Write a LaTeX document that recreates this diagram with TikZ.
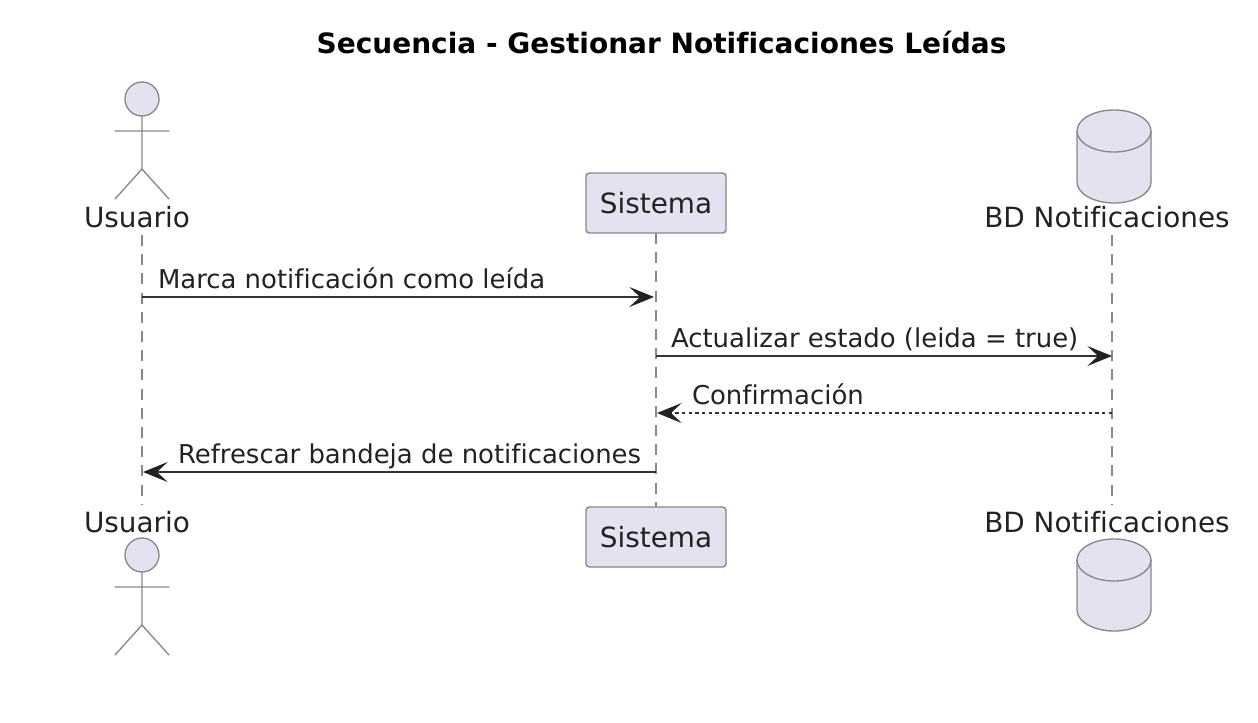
\documentclass[tikz,border=0pt]{standalone}
\usepackage{fontspec}
\setmainfont[Ligatures=NoCommon]{DejaVu Sans}
\usetikzlibrary{arrows.meta}
\definecolor{partfill}{HTML}{E2E2F0}
\definecolor{partline}{HTML}{87878C}
\definecolor{ink}{HTML}{222222}
\definecolor{msgline}{HTML}{333333}
\tikzset{
  x=0.75pt,y=-0.75pt,
  every node/.style={inner sep=0pt,outer sep=0pt,text=ink},
  headlabel/.style={font=\fontsize{20.9}{24}\selectfont,anchor=base},
  msglabel/.style={font=\fontsize{19.45}{24}\selectfont,anchor=base west},
  titlelabel/.style={font=\fontsize{21}{24}\selectfont\bfseries,anchor=base,text=black},
  partbox/.style={draw=partline,fill=partfill,line width=1.1pt,rounded corners=2.5pt,minimum width=105pt,minimum height=45pt,font=\fontsize{20.9}{24}\selectfont},
  shapeline/.style={draw=partline,line width=1pt},
  actorbody/.style={shapeline,line cap=round},
  lifeline/.style={draw=partline,line width=1pt,dash pattern=on 8.2pt off 6.2pt},
  msgtip/.style={-{Stealth[length=18.5pt,width=15pt,inset=8pt,color=ink]}},
  solidmsg/.style={draw=msgline,line width=1.2pt,msgtip},
  dashedmsg/.style={draw=msgline,line width=1pt,dash pattern=on 2.5pt off 2.5pt,msgtip},
}
\begin{document}
\begin{tikzpicture}
\useasboundingbox (0,0) rectangle (1258,722);
% title
\node[titlelabel] (title) at (661.5,53) {Secuencia - Gestionar Notificaciones Leídas};

% lifeline end points
\coordinate (uTop) at (142,235);
\coordinate (uBot) at (142,505);
\coordinate (sTop) at (656,233);
\coordinate (sBot) at (656,507);
\coordinate (dTop) at (1112,235);
\coordinate (dBot) at (1112,505);
\draw[lifeline] (uTop) -- (uBot);
\draw[lifeline] (sTop) -- (sBot);
\draw[lifeline] (dTop) -- (dBot);

% participants
\node[partbox] (sisA) at (656,203) {Sistema};
\node[partbox] (sisB) at (656,537) {Sistema};
\node[headlabel] (usuA) at (137,227) {Usuario};
\node[headlabel] (usuB) at (137,532) {Usuario};
\node[headlabel] (bdA) at (1107,227) {BD Notificaciones};
\node[headlabel] (bdB) at (1107,532) {BD Notificaciones};

% actors
\draw[shapeline,fill=partfill] (142,99) circle[radius=17];
\draw[actorbody] (142,116) -- (142,169) (115,131) -- (169,131) (115,199) -- (142,169) -- (169,199);
\draw[shapeline,fill=partfill] (142,555) circle[radius=17];
\draw[actorbody] (142,572) -- (142,625) (115,587) -- (169,587) (115,655) -- (142,625) -- (169,655);

% databases
\draw[shapeline,fill=partfill] (1077,131) arc[start angle=180,end angle=360,x radius=37,y radius=21]
  -- (1151,182) arc[start angle=0,end angle=180,x radius=37,y radius=21] -- cycle;
\draw[shapeline] (1077,131) arc[start angle=180,end angle=0,x radius=37,y radius=21];
\draw[shapeline,fill=partfill] (1077,560) arc[start angle=180,end angle=360,x radius=37,y radius=21]
  -- (1151,610) arc[start angle=0,end angle=180,x radius=37,y radius=21] -- cycle;
\draw[shapeline] (1077,560) arc[start angle=180,end angle=0,x radius=37,y radius=21];

% messages
\coordinate (m1a) at (142,297); \coordinate (m1b) at (654,297);
\coordinate (m2a) at (656,356); \coordinate (m2b) at (1112,356);
\coordinate (m3a) at (1112,413); \coordinate (m3b) at (657,413);
\coordinate (m4a) at (656,472); \coordinate (m4b) at (143,472);
\draw[solidmsg] (m1a) -- (m1b);
\draw[solidmsg] (m2a) -- (m2b);
\draw[dashedmsg] (m3a) -- (m3b);
\draw[solidmsg] (m4a) -- (m4b);
\node[msglabel] (l1) at (158,288) {Marca notificación como leída};
\node[msglabel] (l2) at (671,347) {Actualizar estado (leida = true)};
\node[msglabel] (l3) at (692,404) {Confirmación};
\node[msglabel] (l4) at (178,463) {Refrescar bandeja de notificaciones};
\end{tikzpicture}
\end{document}
